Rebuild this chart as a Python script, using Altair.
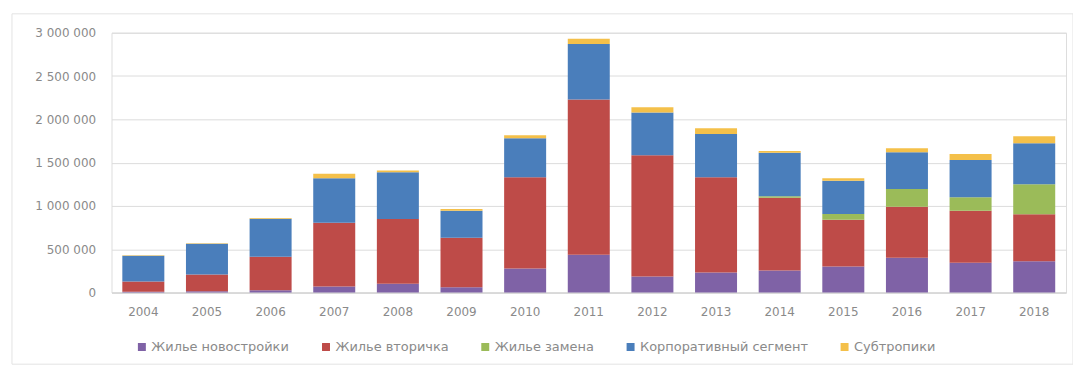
import altair as alt
import pandas as pd

years = [str(y) for y in range(2004, 2019)]
series = ["Жилье новостройки", "Жилье вторичка", "Жилье замена",
          "Корпоративный сегмент", "Субтропики"]
colors = ["#7F62A6", "#BE4B48", "#9BBB59", "#4A7EBB", "#F4C04A"]

novostroiki = [10000, 15000, 25000, 70000, 100000, 60000, 276000, 437000,
               184000, 230000, 253000, 300000, 400000, 345000, 360000]
vtorichka = [116000, 192000, 389000, 735000, 750000, 572000, 1054000, 1793000,
             1402000, 1100000, 840000, 540000, 590000, 600000, 545000]
zamena = [0, 0, 0, 0, 0, 0, 0, 0, 0, 0, 20000, 68000, 205000, 155000, 345000]
korporat = [299000, 356000, 437000, 515000, 540000, 311000, 450000, 640000,
            494000, 500000, 500000, 382000, 425000, 430000, 475000]
subtropiki = [5000, 5000, 10000, 50000, 20000, 20000, 36000, 60000,
              60000, 67000, 20000, 30000, 47000, 70000, 80000]

all_values = [novostroiki, vtorichka, zamena, korporat, subtropiki]
rows = []
for si, (name, vals) in enumerate(zip(series, all_values)):
    for y, v in zip(years, vals):
        rows.append({"year": y, "series": name, "value": v, "idx": si})
df = pd.DataFrame(rows)

font = "DejaVu Sans"
fs = 12
label_color = "#8a8a8a"

bars = alt.Chart(df).mark_bar().encode(
    x=alt.X("year:N", sort=years, title=None,
            scale=alt.Scale(paddingInner=0.34, paddingOuter=0.17),
            axis=alt.Axis(labelAngle=0, ticks=False, domainColor="#d0d0d0",
                          labelPadding=14, labelFontSize=fs, labelColor=label_color,
                          labelFont=font, grid=False)),
    y=alt.Y("value:Q", title=None, stack="zero",
            scale=alt.Scale(domain=[0, 3000000], nice=False),
            axis=alt.Axis(values=[0, 500000, 1000000, 1500000, 2000000, 2500000, 3000000],
                          labelExpr="replace(format(datum.value, ','), /,/g, ' ')",
                          ticks=False, domain=False, gridColor="#dcdcdc",
                          labelPadding=16, labelFontSize=fs, labelColor=label_color,
                          labelFont=font)),
    color=alt.Color("series:N", title=None,
                    scale=alt.Scale(domain=series, range=colors),
                    legend=alt.Legend(orient="none", direction="horizontal",
                                      legendX=24, legendY=309, symbolType="square",
                                      symbolSize=64, symbolStrokeWidth=0,
                                      symbolOffset=0, labelOffset=3,
                                      columnPadding=30, labelFontSize=13,
                                      labelColor=label_color, labelFont=font,
                                      labelLimit=300)),
    order=alt.Order("idx:Q", sort="ascending"),
)

frame = alt.Chart(pd.DataFrame({"a": [0]})).mark_rect(
    fill=None, stroke="#e3e3e3", strokeWidth=1
).encode(
    x=alt.value(-100), x2=alt.value(966), y=alt.value(-19), y2=alt.value(333)
)

chart = alt.layer(frame, bars).properties(
    width=959, height=261,
    autosize=alt.AutoSizeParams(type="none"),
    padding={"left": 104, "top": 24, "right": 7, "bottom": 74},
).configure_view(stroke=None).configure(background="white")

chart.save("out.html", embed_options={"renderer": "svg", "actions": False})
